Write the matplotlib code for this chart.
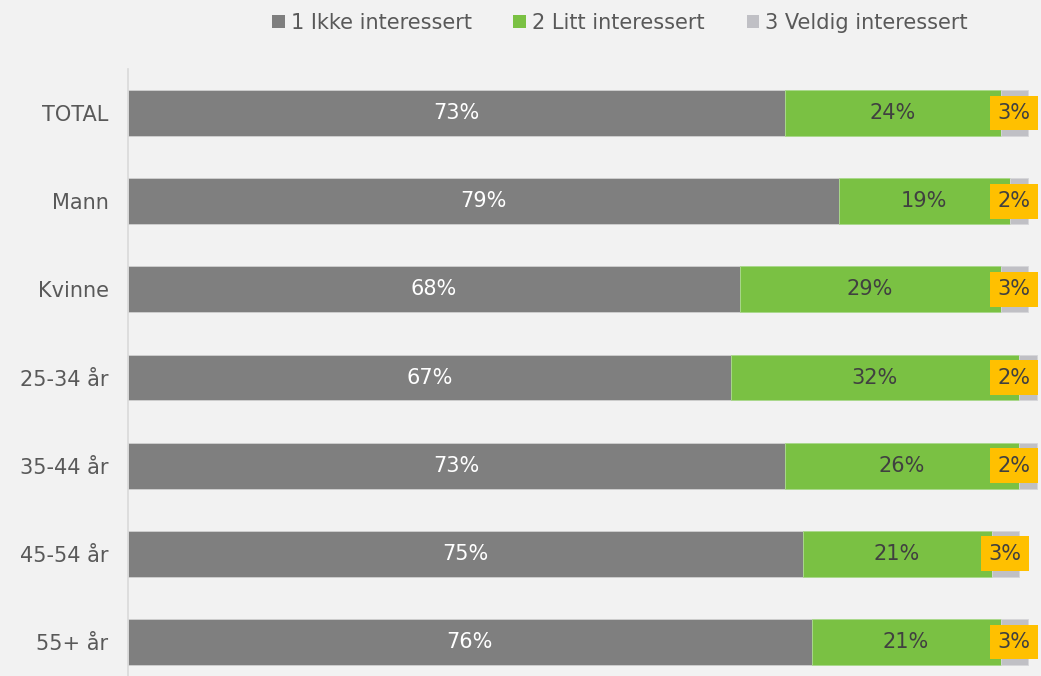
import matplotlib
matplotlib.use("Agg")
import matplotlib.pyplot as plt
import numpy as np

# Survey: interest level by group (share of respondents)
groups = ["TOTAL", "Mann", "Kvinne", "25-34 år", "35-44 år", "45-54 år", "55+ år"]
ikke = [73, 79, 68, 67, 73, 75, 76]
litt = [24, 19, 29, 32, 26, 21, 21]
veldig = [3, 2, 3, 2, 2, 3, 3]
series_names = ["1 Ikke interessert", "2 Litt interessert", "3 Veldig interessert"]

bg = "#F2F2F2"
c_ikke = "#7F7F7F"
c_litt = "#7AC143"
c_veldig = "#C0C0C5"
c_box = "#FFC000"
txt_dark = "#404040"
tick_col = "#595959"

plt.rcParams["font.family"] = ["DejaVu Sans"]

W, H = 1041, 676
fig = plt.figure(figsize=(W / 100, H / 100), dpi=100, facecolor=bg)
ax = fig.add_axes([128 / W, (H - 686) / H, 913 / W, 617 / H], facecolor=bg)

y = np.arange(len(groups))
a = np.array(ikke) / 100
b = np.array(litt) / 100
c = np.array(veldig) / 100
h = 0.52

bars1 = ax.barh(y, a, height=h, color=c_ikke, edgecolor="#D0D0D0", linewidth=0.6,
                label=series_names[0])
bars2 = ax.barh(y, b, left=a, height=h, color=c_litt, edgecolor="#A9D88A", linewidth=0.6,
                label=series_names[1])
bars3 = ax.barh(y, c, left=a + b, height=h, color=c_veldig, edgecolor="#D6D6D9", linewidth=0.6,
                label=series_names[2])

fs = 15
# keep the boxed labels of the last segment inside the plotting area
box_max_x = 0.985
for i in range(len(groups)):
    ax.text(a[i] / 2, y[i], f"{ikke[i]}%", ha="center", va="center",
            color="white", fontsize=fs)
    ax.text(a[i] + b[i] / 2, y[i], f"{litt[i]}%", ha="center", va="center",
            color=txt_dark, fontsize=fs)
    xc = min(a[i] + b[i] + c[i] / 2, box_max_x)
    ax.text(xc, y[i], f"{veldig[i]}%", ha="center", va="center",
            color=txt_dark, fontsize=fs, clip_on=False,
            bbox=dict(boxstyle="square,pad=0.35", facecolor=c_box, edgecolor="none"))

ax.set_xlim(0, 1.015)
ax.set_ylim(len(groups) - 0.5, -0.5)
ax.set_yticks(y)
ax.set_yticklabels(groups, color=tick_col, fontsize=fs)
ax.tick_params(axis="y", length=0, pad=14)
ax.set_xticks([])
for s in ["top", "right", "bottom"]:
    ax.spines[s].set_visible(False)
ax.spines["left"].set_color("#D9D9D9")
ax.spines["left"].set_linewidth(1.2)

leg = fig.legend(handles=[bars1, bars2, bars3], labels=series_names,
                 loc="center", bbox_to_anchor=(620 / W, 1 - 23 / H), ncol=3,
                 frameon=False, fontsize=fs, handlelength=0.6, handleheight=0.6,
                 handletextpad=0.3, columnspacing=2.0, labelcolor=tick_col)
for hnd in leg.legend_handles:
    hnd.set_edgecolor("none")

fig.savefig("out.png", dpi=100, facecolor=bg)
